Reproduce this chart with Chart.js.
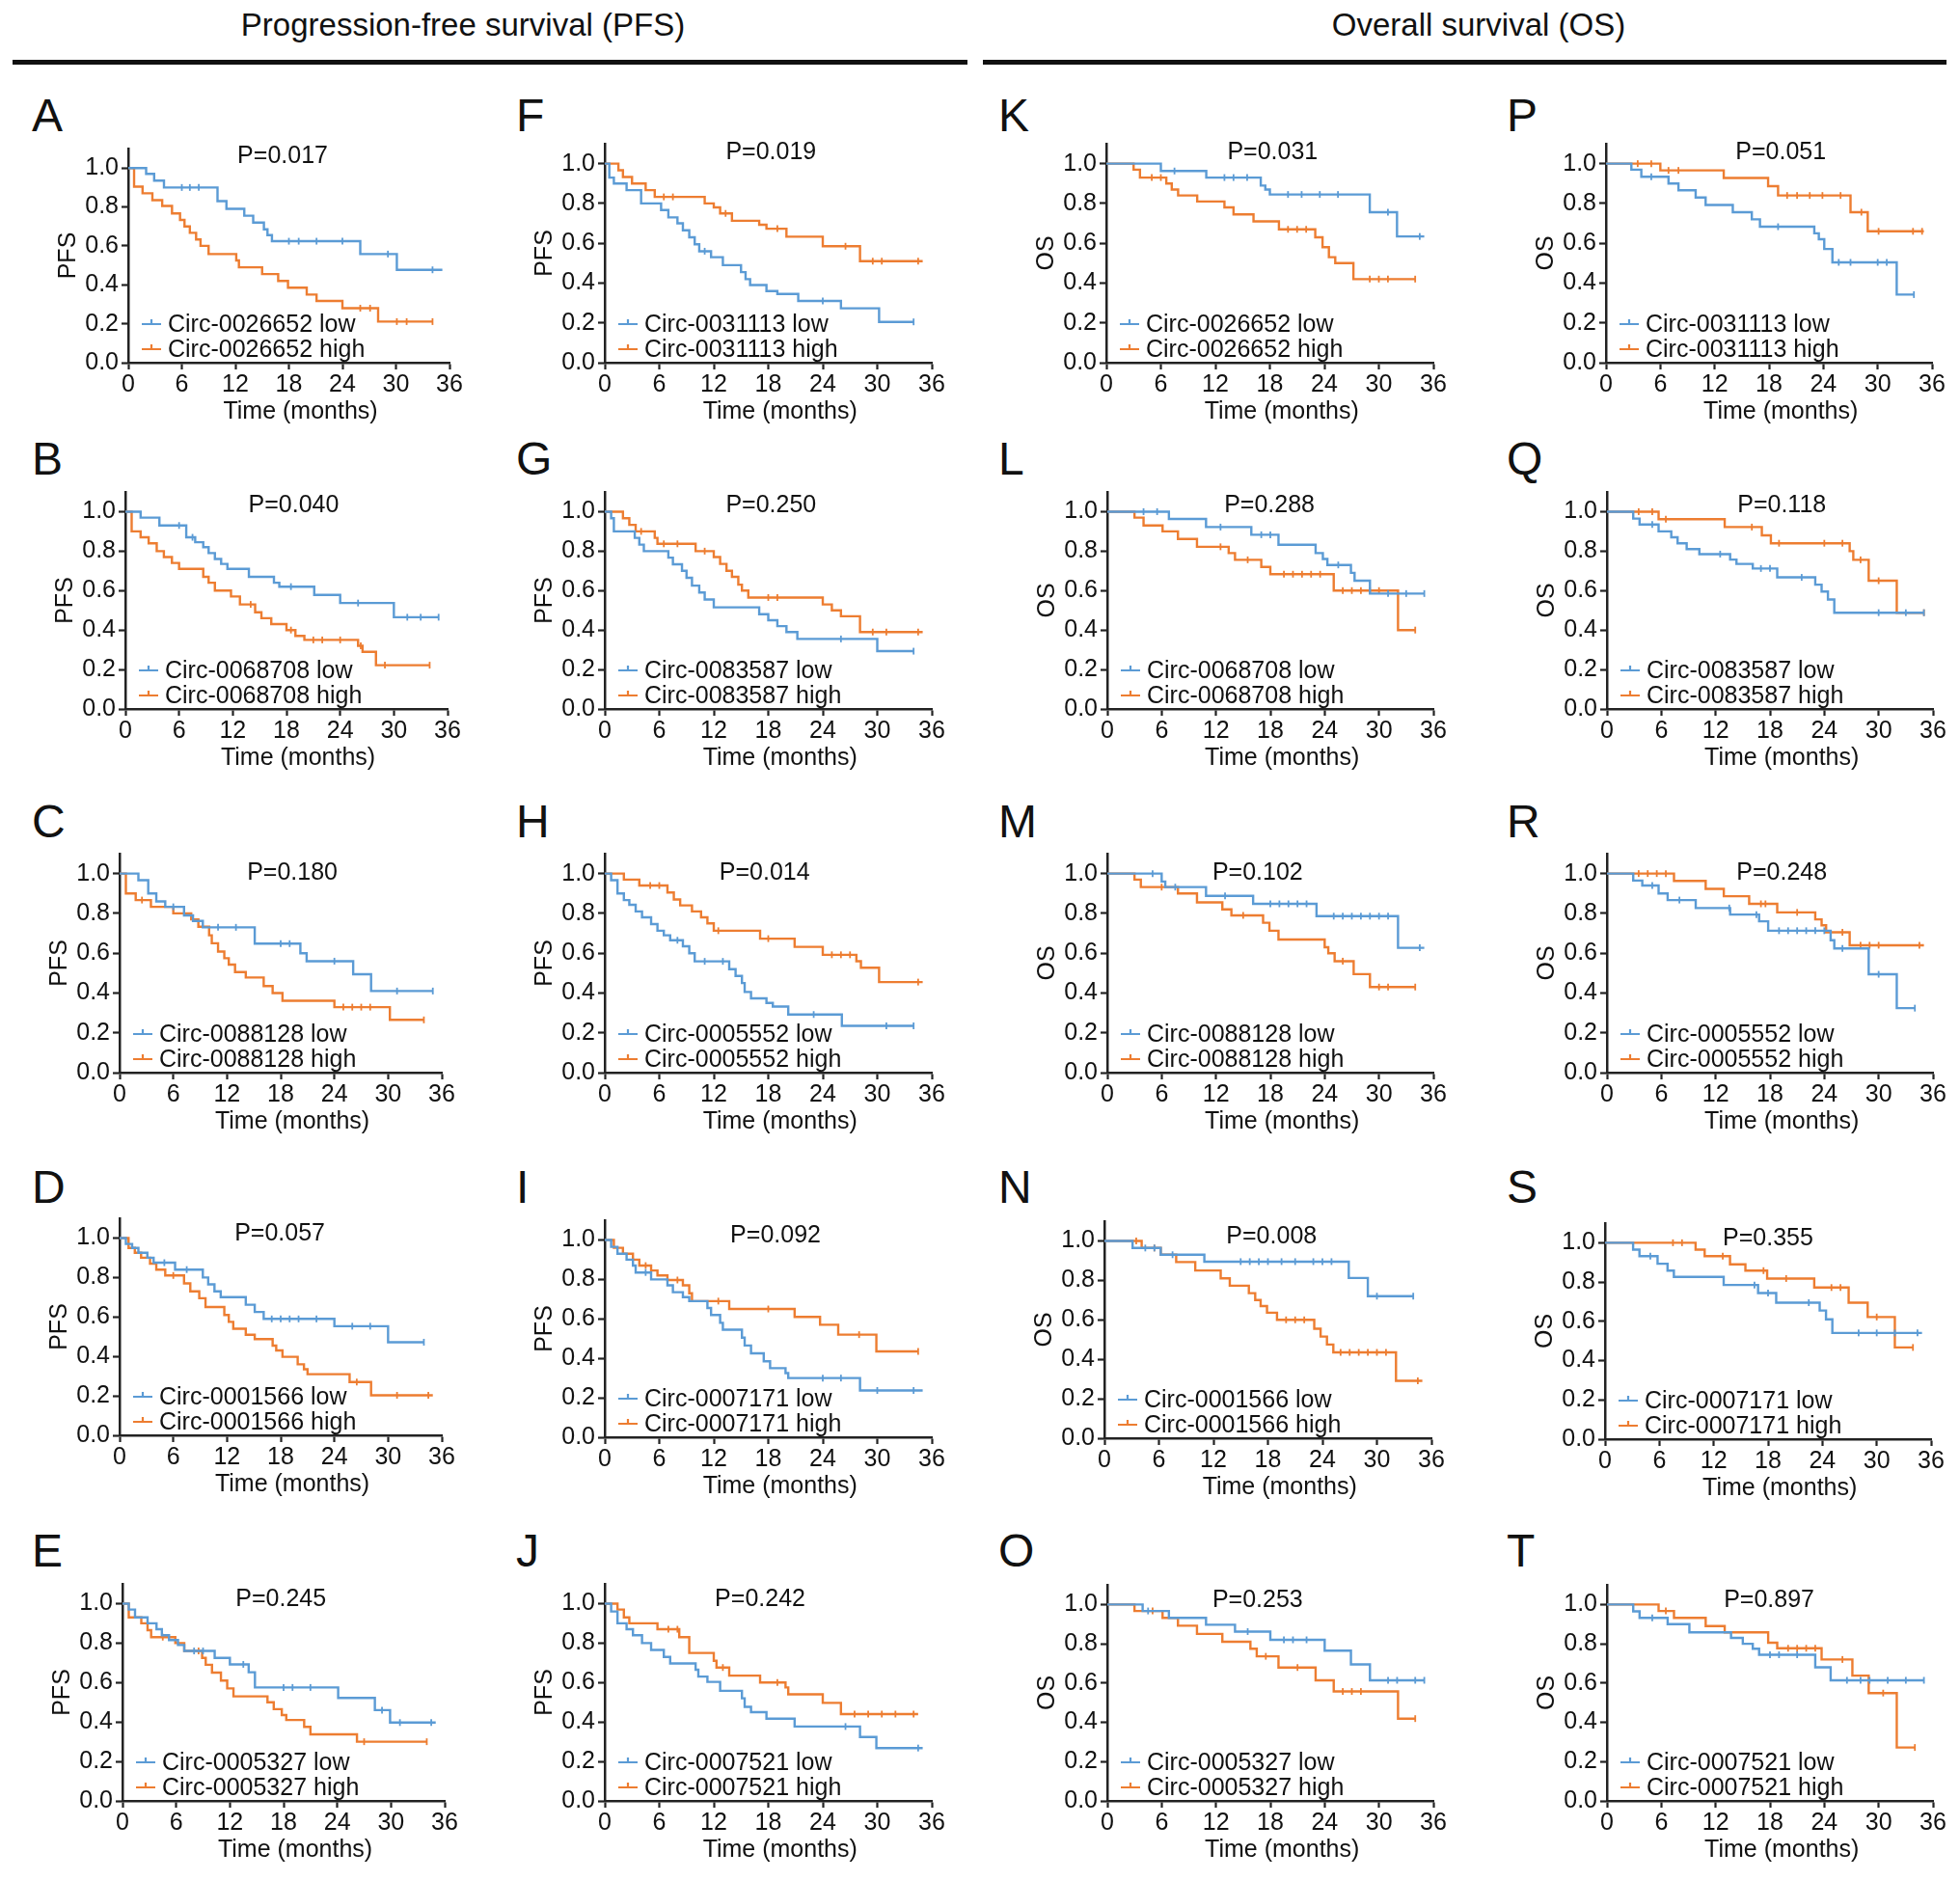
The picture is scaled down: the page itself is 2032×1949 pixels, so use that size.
<!DOCTYPE html>
<html>
<head>
<meta charset="utf-8">
<script src="https://cdn.jsdelivr.net/npm/chart.js@4.4.1/dist/chart.umd.min.js"></script>
<style>
html,body{margin:0;padding:0;background:#fff;}
#fig{position:relative;width:2032px;height:1949px;overflow:hidden;background:#fff;
  font-family:"Liberation Sans",Arial,Helvetica,sans-serif;color:#111;}
.hdr{position:absolute;font-size:33px;line-height:33px;white-space:nowrap;transform:translateX(-50%);}
.rule{position:absolute;height:5px;background:#111;}
.plab{position:absolute;font-size:48px;line-height:48px;}
canvas{position:absolute;}
</style>
</head>
<body>
<div id="fig"></div>
<script>
// ---------------- DATA ----------------
const sectionTitles = ['Progression-free survival (PFS)', 'Overall survival (OS)'];
const panelLetters = ['A','B','C','D','E','F','G','H','I','J','K','L','M','N','O','P','Q','R','S','T'];
const circIds = ['0026652','0068708','0088128','0001566','0005327',
                 '0031113','0083587','0005552','0007171','0007521',
                 '0026652','0068708','0088128','0001566','0005327',
                 '0031113','0083587','0005552','0007171','0007521'];
const pValues = ['0.017','0.040','0.180','0.057','0.245',
                 '0.019','0.250','0.014','0.092','0.242',
                 '0.031','0.288','0.102','0.008','0.253',
                 '0.051','0.118','0.248','0.355','0.897'];
const yTitles = ['PFS','PFS','PFS','PFS','PFS','PFS','PFS','PFS','PFS','PFS',
                 'OS','OS','OS','OS','OS','OS','OS','OS','OS','OS'];
const xAxisTitle = 'Time (months)';
const xTickValues = [0, 6, 12, 18, 24, 30, 36];
const yTickValues = [0, 0.2, 0.4, 0.6, 0.8, 1.0];
const yTickLabels = ['0.0', '0.2', '0.4', '0.6', '0.8', '1.0'];

// Kaplan-Meier steps: [time (months), survival after that time]; censor times
const A_low = [[0,1],[2,0.97],[2.9,0.935],[4,0.9],[10,0.83],[11,0.79],[13,0.755],[14,0.72],[15.2,0.685],[15.6,0.655],[16.1,0.624],[26,0.558],[30.1,0.477],[35.2,0.477]];
const A_low_cens = [6,6.9,7.9,18,19.1,21.1,24,29.1,34.1];
const A_high = [[0,1],[0.65,0.904],[1.6,0.87],[2.7,0.835],[3.8,0.805],[4.9,0.767],[5.8,0.733],[6.3,0.7],[6.9,0.667],[7.6,0.633],[8.1,0.6],[9,0.558],[12.1,0.525],[12.4,0.49],[15,0.455],[16.8,0.42],[17.9,0.385],[20,0.35],[21.1,0.317],[24,0.28],[28,0.211],[34.1,0.211]];
const A_high_cens = [26,27.1,30.1,31.2,34.1];

const B_low = [[0,1],[1.7,0.97],[3.8,0.93],[6.8,0.87],[7.8,0.845],[8.7,0.82],[9.3,0.79],[10,0.76],[10.7,0.735],[11.4,0.71],[13.8,0.67],[16.6,0.64],[17.2,0.62],[21.1,0.578],[24,0.537],[30,0.465],[35,0.465]];
const B_low_cens = [6,7.5,18.5,26,31.5,33,35];
const B_high = [[0,1],[0.7,0.9],[1.7,0.87],[2.6,0.84],[3.5,0.8],[4.3,0.77],[5.2,0.74],[6,0.71],[8.7,0.67],[9.3,0.64],[10,0.6],[11.8,0.57],[12.8,0.53],[14.5,0.49],[15.2,0.46],[16.3,0.43],[18,0.4],[19,0.37],[20,0.35],[26,0.32],[26.5,0.29],[28,0.222],[34,0.222]];
const B_high_cens = [14,18.5,21,22,24,26.3,29,34];

const C_low = [[0,1],[2.1,0.967],[3.2,0.9],[4.1,0.86],[5.1,0.833],[7.2,0.79],[8.2,0.762],[9.3,0.73],[15.1,0.648],[20.2,0.6],[20.9,0.56],[26.1,0.494],[28.1,0.41],[35,0.41]];
const C_low_cens = [6,11,13,18,19,24,31,35];
const C_high = [[0,1],[0.7,0.9],[1.8,0.867],[3.5,0.833],[6,0.8],[8,0.77],[8.8,0.733],[10,0.69],[10.3,0.65],[11,0.608],[11.7,0.575],[12.2,0.543],[12.9,0.505],[14.1,0.478],[16.1,0.435],[17.1,0.4],[18.2,0.361],[24,0.329],[30.2,0.265],[34,0.265]];
const C_high_cens = [2.5,25,26,27,28,34];

const D_low = [[0,1],[0.7,0.97],[1.4,0.95],[2.1,0.925],[3.1,0.9],[3.8,0.875],[6.2,0.84],[9.3,0.8],[9.9,0.765],[10.6,0.73],[11.3,0.7],[14.1,0.662],[15.1,0.625],[16.1,0.59],[24,0.553],[30,0.472],[34,0.472]];
const D_low_cens = [5,7.5,17,18,19,20,22,26,28,34];
const D_high = [[0,1],[1,0.95],[1.7,0.925],[2.4,0.9],[3.4,0.87],[4.1,0.84],[5.1,0.81],[7.2,0.77],[7.9,0.73],[8.9,0.695],[9.6,0.65],[11.7,0.61],[12.2,0.575],[12.7,0.54],[14.1,0.51],[15.1,0.488],[17.1,0.455],[17.5,0.43],[18.2,0.398],[19.9,0.36],[20.6,0.335],[21,0.31],[25.7,0.27],[28.1,0.203],[35,0.203]];
const D_high_cens = [6,26.5,31,34.5];

const E_low = [[0,1],[0.7,0.97],[1.4,0.93],[2.8,0.9],[3.8,0.87],[4.4,0.84],[5.2,0.815],[6.2,0.79],[6.9,0.76],[10.3,0.725],[12,0.692],[14.1,0.652],[14.8,0.575],[24.1,0.522],[28.2,0.46],[29.9,0.397],[35,0.397]];
const E_low_cens = [8,9,13.5,18,19,21,29,31,34.5];
const E_high = [[0,1],[0.7,0.93],[2.1,0.9],[2.8,0.865],[3.2,0.83],[5.9,0.8],[6.9,0.76],[8.9,0.725],[9.3,0.69],[10,0.65],[11,0.61],[11.7,0.57],[12.4,0.53],[16.2,0.5],[16.9,0.465],[17.8,0.435],[18.3,0.41],[20.3,0.375],[21,0.337],[26.2,0.3],[34,0.3]];
const E_high_cens = [4.5,8.5,27,34];

const F_low = [[0,1],[0.5,0.93],[1,0.9],[2.4,0.867],[4,0.8],[6.2,0.767],[7,0.73],[8,0.7],[8.6,0.665],[9.3,0.63],[9.9,0.595],[10.4,0.56],[11.7,0.53],[13,0.49],[15,0.455],[15.5,0.42],[16,0.39],[17.8,0.36],[19,0.345],[21.3,0.31],[26,0.273],[30.2,0.205],[34,0.205]];
const F_low_cens = [11,24,34];
const F_high = [[0,1],[1.5,0.967],[2,0.933],[3,0.9],[4.5,0.867],[5.5,0.833],[11,0.8],[12,0.78],[12.7,0.75],[14,0.713],[17,0.693],[17.8,0.673],[20,0.633],[24,0.585],[28.1,0.51],[35,0.51]];
const F_high_cens = [6.5,7.5,13.3,19,26.5,29.5,30.5,34.5];

const G_low = [[0,1],[0.7,0.967],[1,0.9],[3.3,0.867],[3.8,0.833],[4.3,0.8],[7,0.767],[7.5,0.733],[8.5,0.7],[9,0.665],[9.6,0.625],[10.4,0.59],[11,0.555],[12,0.515],[17,0.48],[18,0.45],[19,0.42],[20,0.39],[21.2,0.355],[30,0.293],[34,0.293]];
const G_low_cens = [26,34];
const G_high = [[0,1],[2,0.967],[2.7,0.933],[3.4,0.9],[5.5,0.867],[5.8,0.837],[10,0.8],[12,0.77],[12.7,0.735],[13.4,0.7],[14,0.67],[14.7,0.63],[15.1,0.6],[15.8,0.565],[24,0.53],[25,0.5],[26,0.47],[28.1,0.39],[35,0.39]];
const G_high_cens = [4,6.5,8,11,18,19,29.5,31,34.5];

const H_low = [[0,1],[0.7,0.967],[1.4,0.9],[2.1,0.867],[2.7,0.843],[3.4,0.81],[4.1,0.78],[5.1,0.746],[5.8,0.713],[6.5,0.69],[7.2,0.665],[8.6,0.635],[9.3,0.6],[9.9,0.559],[13.7,0.52],[14.4,0.486],[15.1,0.45],[15.4,0.405],[16.1,0.373],[17.8,0.35],[18.5,0.332],[20.2,0.292],[26.1,0.235],[34,0.235]];
const H_low_cens = [8,11,13,23,31,34];
const H_high = [[0,1],[2.1,0.97],[3.8,0.94],[6.9,0.905],[7.6,0.87],[8.3,0.84],[9.6,0.81],[10.6,0.78],[11.3,0.75],[12,0.713],[17.1,0.673],[20.9,0.632],[24,0.592],[27.7,0.56],[28.2,0.527],[30.2,0.455],[35,0.455]];
const H_high_cens = [5,6,12.5,18,25,26,27,34.5];

const I_low = [[0,1],[0.7,0.965],[1.4,0.93],[2.4,0.9],[3.1,0.87],[3.4,0.835],[5.1,0.8],[6.9,0.77],[7.5,0.735],[8.6,0.71],[9.3,0.69],[11.3,0.655],[11.7,0.62],[12.7,0.58],[13,0.545],[15.1,0.505],[15.4,0.465],[16.1,0.425],[17.5,0.385],[18.2,0.35],[19.9,0.325],[20.2,0.3],[28.1,0.237],[35,0.237]];
const I_low_cens = [4.5,24,26,30,34];
const I_high = [[0,1],[1,0.96],[2,0.93],[3.1,0.9],[3.8,0.87],[5.1,0.845],[5.8,0.82],[6.9,0.797],[8.6,0.77],[9.3,0.73],[9.6,0.69],[13.7,0.65],[20.9,0.61],[23.7,0.57],[25.7,0.52],[29.9,0.435],[34.5,0.435]];
const I_high_cens = [4.5,8,12.5,18,28,34.5];

const J_low = [[0,1],[0.7,0.96],[1.4,0.9],[2.4,0.87],[3.1,0.84],[4.1,0.8],[5.1,0.765],[6.5,0.73],[7.2,0.697],[10,0.665],[10.3,0.63],[11.3,0.603],[12.7,0.558],[15.1,0.52],[15.4,0.477],[16.1,0.45],[17.8,0.417],[20.9,0.377],[28.1,0.324],[29.9,0.268],[35,0.268]];
const J_low_cens = [26.5,34.5];
const J_high = [[0,1],[1.4,0.97],[2.1,0.93],[2.7,0.9],[5.8,0.87],[8.2,0.83],[9.3,0.75],[12,0.71],[12.3,0.676],[13.7,0.635],[17.1,0.6],[19.9,0.575],[20.2,0.54],[24,0.497],[26,0.44],[34.5,0.44]];
const J_high_cens = [7,8,13,19,27.5,29,30.5,32,34];

const K_low = [[0,1],[6,0.963],[11,0.93],[17,0.89],[17.5,0.87],[18,0.845],[29,0.756],[32,0.634],[35,0.634]];
const K_low_cens = [7.5,13,14,15.5,20,21.5,23.5,25.5,31,34.5];
const K_high = [[0,1],[3,0.97],[3.7,0.93],[6.6,0.9],[7.2,0.87],[7.9,0.84],[10,0.81],[13,0.78],[14,0.745],[16.2,0.71],[19,0.67],[23,0.63],[23.8,0.58],[24.5,0.53],[25.2,0.5],[27.2,0.42],[34,0.42]];
const K_high_cens = [5,6,20,21,22,29,30,31,34];

const L_low = [[0,1],[6.8,0.963],[10.9,0.922],[15.9,0.883],[18.9,0.832],[23,0.79],[23.8,0.76],[24.3,0.73],[26.9,0.69],[27.3,0.65],[29,0.585],[35,0.585]];
const L_low_cens = [4,5.5,12.5,17,18,25.5,31,33,35];
const L_high = [[0,1],[3,0.97],[4,0.93],[6.1,0.9],[7.8,0.862],[9.9,0.822],[13.4,0.79],[14.1,0.756],[17,0.72],[18,0.683],[25,0.6],[32.1,0.4],[34,0.4]];
const L_high_cens = [12.5,15.5,19.5,20.5,21.5,22.5,23.5,26,27,28,29,30,34];

const M_low = [[0,1],[6,0.96],[6.4,0.932],[10.9,0.888],[16.1,0.848],[23.1,0.786],[32.1,0.627],[35,0.627]];
const M_low_cens = [5,7.5,13,18,19,20,21,22,25,26,27,28,29,30,31,34.5];
const M_high = [[0,1],[3,0.97],[3.7,0.932],[7.8,0.9],[9.9,0.855],[12.7,0.82],[13.7,0.79],[17.2,0.753],[17.9,0.713],[18.9,0.669],[24,0.63],[24.4,0.6],[25.1,0.56],[27.2,0.495],[29,0.43],[34,0.43]];
const M_high_cens = [6,15,26,30,31,34];

const N_low = [[0,1],[3.1,0.964],[6.2,0.93],[11,0.895],[26.9,0.812],[29,0.72],[34,0.72]];
const N_low_cens = [4.5,5.5,7.5,15,16,17,18,19.5,21,23,24,25,30,34];
const N_high = [[0,1],[4.1,0.964],[6.2,0.93],[7.9,0.893],[10,0.85],[12.8,0.81],[13.8,0.773],[15.9,0.735],[16.6,0.7],[17.2,0.67],[17.9,0.636],[19,0.6],[23.1,0.555],[23.8,0.515],[24.5,0.475],[25.2,0.435],[32.1,0.291],[35,0.291]];
const N_high_cens = [3.5,5.5,20,21,22,26,27,28,29,30,31,34.5];

const O_low = [[0,1],[3.9,0.967],[6.8,0.932],[10.9,0.897],[14.1,0.862],[18,0.82],[24,0.765],[26.9,0.695],[29,0.614],[35,0.614]];
const O_low_cens = [4.5,15.5,19.5,20.5,22,31,32,34,35];
const O_high = [[0,1],[3,0.967],[6.1,0.932],[7.8,0.892],[9.9,0.85],[12.7,0.81],[15.8,0.775],[16.5,0.736],[18.9,0.679],[23,0.614],[25,0.557],[32.1,0.419],[34,0.419]];
const O_high_cens = [5,17.5,21,26,27,28,34];

const P_low = [[0,1],[2.8,0.97],[3.9,0.934],[6.9,0.9],[8,0.866],[9.9,0.83],[11,0.792],[14,0.756],[16.1,0.72],[17,0.683],[23,0.65],[23.5,0.62],[24.1,0.571],[25,0.504],[32.1,0.342],[34,0.342]];
const P_low_cens = [5,19,25.7,27,30,31,34];
const P_high = [[0,1],[6,0.966],[13,0.928],[17.9,0.887],[19,0.84],[27,0.756],[28.9,0.66],[35.1,0.66]];
const P_high_cens = [3.5,5,6.9,8,20,21.1,22.5,23.9,25.9,28.2,30.1,33.9,34.9];

const Q_low = [[0,1],[2.9,0.965],[3.6,0.935],[5.7,0.9],[7.1,0.87],[7.8,0.84],[8.8,0.81],[10.2,0.785],[13.6,0.757],[14.3,0.735],[16.1,0.712],[18.8,0.667],[23,0.63],[23.7,0.595],[24.4,0.555],[25.1,0.488],[35,0.488]];
const Q_low_cens = [5,12.5,17,18,21.5,30,33,35];
const Q_high = [[0,1],[5.7,0.962],[13,0.922],[17.1,0.88],[18.1,0.84],[26.8,0.8],[27.2,0.756],[28.9,0.65],[32,0.488],[35,0.488]];
const Q_high_cens = [3.5,5,6.5,16,19,24,26,28,30,35];

const R_low = [[0,1],[2.9,0.965],[3.9,0.94],[5.7,0.9],[6.7,0.867],[9.8,0.827],[13.6,0.794],[16.8,0.76],[17.8,0.713],[24.7,0.665],[25.1,0.624],[28.9,0.494],[32,0.324],[34,0.324]];
const R_low_cens = [5,8,13.5,16.5,19,20,21,22,23,24,26,30,34];
const R_high = [[0,1],[7.4,0.963],[10.9,0.923],[12.9,0.886],[15.7,0.848],[18.8,0.805],[23,0.77],[23.7,0.74],[24.2,0.705],[26.8,0.64],[35,0.64]];
const R_high_cens = [3.5,4.5,5.5,6.5,17,17.5,21,26,28,29,30,34.5];

const S_low = [[0,1],[3.1,0.965],[3.8,0.932],[5.8,0.893],[6.9,0.858],[7.6,0.826],[13.1,0.785],[16.9,0.744],[18.9,0.695],[23.7,0.655],[24.4,0.61],[25.1,0.541],[35,0.541]];
const S_low_cens = [5,16.5,18,22.5,28,30,32,34.5];
const S_high = [[0,1],[10,0.965],[11,0.932],[13.8,0.89],[15.5,0.858],[17.9,0.818],[23.1,0.772],[26.9,0.695],[29,0.622],[32,0.467],[34,0.467]];
const S_high_cens = [7.5,8.5,13,17.5,20,25,26,30,34];

const T_low = [[0,1],[2.9,0.965],[3.6,0.932],[6.7,0.9],[9.1,0.858],[13.7,0.83],[15,0.8],[16.1,0.775],[16.8,0.744],[23,0.68],[24.7,0.614],[35,0.614]];
const T_low_cens = [5,18,19,21,26.5,28,29,31,33,35];
const T_high = [[0,1],[5.7,0.967],[7.4,0.932],[10.9,0.89],[13,0.858],[17.8,0.805],[18.8,0.777],[23.7,0.72],[27.1,0.638],[28.9,0.549],[32,0.272],[34,0.272]];
const T_high_cens = [6.5,20,21,22,23,26,30.5,34];

const lowSeries = [A_low,B_low,C_low,D_low,E_low,F_low,G_low,H_low,I_low,J_low,K_low,L_low,M_low,N_low,O_low,P_low,Q_low,R_low,S_low,T_low];
const lowCensors = [A_low_cens,B_low_cens,C_low_cens,D_low_cens,E_low_cens,F_low_cens,G_low_cens,H_low_cens,I_low_cens,J_low_cens,K_low_cens,L_low_cens,M_low_cens,N_low_cens,O_low_cens,P_low_cens,Q_low_cens,R_low_cens,S_low_cens,T_low_cens];
const highSeries = [A_high,B_high,C_high,D_high,E_high,F_high,G_high,H_high,I_high,J_high,K_high,L_high,M_high,N_high,O_high,P_high,Q_high,R_high,S_high,T_high];
const highCensors = [A_high_cens,B_high_cens,C_high_cens,D_high_cens,E_high_cens,F_high_cens,G_high_cens,H_high_cens,I_high_cens,J_high_cens,K_high_cens,L_high_cens,M_high_cens,N_high_cens,O_high_cens,P_high_cens,Q_high_cens,R_high_cens,S_high_cens,T_high_cens];

// ---------------- LAYOUT / STYLE ----------------
const COLOR_LOW = '#5b9bd5';
const COLOR_HIGH = '#ed7d31';
const INK = '#111111';
const AXIS = '#222222';
const FONT = '"Liberation Sans", Arial, Helvetica, sans-serif';
const TXT = 25;
const Y_MAX = 1.1;
const AXIS_W = 80, AXIS_H = 70, PAD_T = 24, PAD_R = 30;
// [x of t=0, y of S=1.0, y of S=0.0, width of 0..36] in page pixels
const panelGeom = [
  [133,174,376,333],[130,530,735,334],[124,906,1112,334],[124,1283,1488,334],[127,1662,1867,334],
  [627,170,375.5,339],[627,530,735,339],[627,906,1112,339],[627,1285,1490,339],[627,1662,1867,339],
  [1147,170,375.5,339],[1148,530,735,338],[1148,906,1112,338],[1145,1286,1491,339],[1148,1663,1867,338],
  [1665,170,375.5,338],[1666,530,735,338],[1666,906,1112,338],[1664,1288,1492,338],[1666,1663,1867,338]
];
const pTextAt = [17.3,18.8,19.3,17.9,17.7, 18.3,18.3,17.6,18.8,17.1, 18.3,17.9,16.6,18.4,16.6, 19.3,19.3,19.3,18.0,17.9];
const pTextLift = [12, 6, 1, 4, 4];           // px above the 1.0 level, per row
const xTitleAt = 19.3;                         // months, centre of axis title
const letterX = [33, 535, 1035, 1562];
const letterBaseline = [137, 493, 869, 1248, 1625];

// ---------------- BUILD ----------------
Chart.defaults.font.family = FONT;
Chart.defaults.color = INK;
const fig = document.getElementById('fig');

function addDiv(cls, text, styles) {
  const d = document.createElement('div');
  d.className = cls; d.textContent = text;
  Object.assign(d.style, styles);
  fig.appendChild(d);
  return d;
}
addDiv('hdr', sectionTitles[0], {left: '480px', top: '9px'});
addDiv('hdr', sectionTitles[1], {left: '1533px', top: '9px'});
addDiv('rule', '', {left: '13px', width: '990px', top: '62px'});
addDiv('rule', '', {left: '1019px', width: '999px', top: '62px'});

function survAt(steps, t) {
  let s = 1;
  for (const [ti, si] of steps) { if (ti <= t + 1e-9) s = si; }
  return s;
}

const kmOverlay = {
  id: 'kmOverlay',
  afterDraw(chart, args, o) {
    const {ctx, chartArea: ca, scales: {x, y}} = chart;
    ctx.save();
    ctx.font = TXT + 'px ' + FONT;
    ctx.fillStyle = INK;
    ctx.textBaseline = 'middle';
    ctx.textAlign = 'center';
    ctx.fillText(o.pText, x.getPixelForValue(o.pAt), y.getPixelForValue(1) - o.pLift);
    ctx.fillText(xAxisTitle, x.getPixelForValue(xTitleAt), ca.bottom + 51);
    ctx.textAlign = 'left';
    o.entries.forEach((e, k) => {
      const yy = ca.bottom - (k === 0 ? 40 : 14);
      ctx.strokeStyle = e.color;
      ctx.lineWidth = 2.2;
      ctx.beginPath();
      ctx.moveTo(ca.left + 14, yy); ctx.lineTo(ca.left + 34, yy);
      ctx.moveTo(ca.left + 24, yy); ctx.lineTo(ca.left + 24, yy - 5);
      ctx.stroke();
      ctx.fillStyle = INK;
      ctx.fillText(e.text, ca.left + 41, yy + 1);
    });
    ctx.restore();
  }
};

panelLetters.forEach((letter, i) => {
  const col = Math.floor(i / 5), row = i % 5;
  const [X0, Y1, Y0, W] = panelGeom[i];
  const plotH = (Y0 - Y1) * Y_MAX;
  const left = Math.round(X0 - AXIS_W);
  const top = Math.round(Y0 - plotH - PAD_T);
  const cw = Math.round(AXIS_W + W + PAD_R);
  const ch = Math.round(Y0) + AXIS_H - top;

  addDiv('plab', letter, {left: letterX[col] + 'px', top: (letterBaseline[row] - 41) + 'px'});

  const cv = document.createElement('canvas');
  cv.width = cw; cv.height = ch;
  Object.assign(cv.style, {left: left + 'px', top: top + 'px', width: cw + 'px', height: ch + 'px'});
  fig.appendChild(cv);

  const lowLine = lowSeries[i].map(([t, s]) => ({x: t, y: s}));
  const highLine = highSeries[i].map(([t, s]) => ({x: t, y: s}));
  const lowMarks = lowCensors[i].map(t => ({x: t, y: survAt(lowSeries[i], t)}));
  const highMarks = highCensors[i].map(t => ({x: t, y: survAt(highSeries[i], t)}));
  const lineDs = (data, color) => ({data, borderColor: color, borderWidth: 2.4, stepped: true,
    pointRadius: 0, fill: false, tension: 0});
  const markDs = (data, color) => ({data, showLine: false, pointStyle: 'line', rotation: 90,
    pointRadius: 3.5, pointBorderWidth: 1.8, pointBorderColor: color, pointBackgroundColor: color,
    borderColor: color});

  new Chart(cv, {
    type: 'line',
    data: {datasets: [
      lineDs(lowLine, COLOR_LOW), markDs(lowMarks, COLOR_LOW),
      lineDs(highLine, COLOR_HIGH), markDs(highMarks, COLOR_HIGH)
    ]},
    options: {
      responsive: false, animation: false, events: [],
      layout: {padding: {top: PAD_T, right: PAD_R, left: 0, bottom: 0}},
      plugins: {
        legend: {display: false}, tooltip: {enabled: false},
        kmOverlay: {
          pText: 'P=' + pValues[i], pAt: pTextAt[i], pLift: pTextLift[row],
          entries: [
            {text: 'Circ-' + circIds[i] + ' low', color: COLOR_LOW},
            {text: 'Circ-' + circIds[i] + ' high', color: COLOR_HIGH}
          ]
        }
      },
      scales: {
        x: {
          type: 'linear', min: 0, max: 36,
          afterBuildTicks: s => { s.ticks = xTickValues.map(v => ({value: v})); },
          afterFit: s => { s.height = AXIS_H; },
          ticks: {color: INK, font: {size: TXT}, padding: 1, maxRotation: 0,
                  callback: v => String(v)},
          grid: {drawOnChartArea: false, drawTicks: true, tickLength: 7, tickWidth: 2.2, tickColor: AXIS},
          border: {display: true, color: AXIS, width: 2.5},
          title: {display: false}
        },
        y: {
          type: 'linear', min: 0, max: Y_MAX,
          afterBuildTicks: s => { s.ticks = yTickValues.map(v => ({value: v})); },
          afterFit: s => { s.width = AXIS_W; },
          ticks: {color: INK, font: {size: TXT}, padding: 3,
                  callback: v => yTickLabels[yTickValues.findIndex(u => Math.abs(u - v) < 1e-6)]},
          grid: {drawOnChartArea: false, drawTicks: true, tickLength: 7, tickWidth: 2.2, tickColor: AXIS},
          border: {display: true, color: AXIS, width: 2.5},
          title: {display: true, text: yTitles[i], color: INK, font: {size: TXT}, padding: {top: 3, bottom: 0}}
        }
      }
    },
    plugins: [kmOverlay]
  });
});
</script>
</body>
</html>
